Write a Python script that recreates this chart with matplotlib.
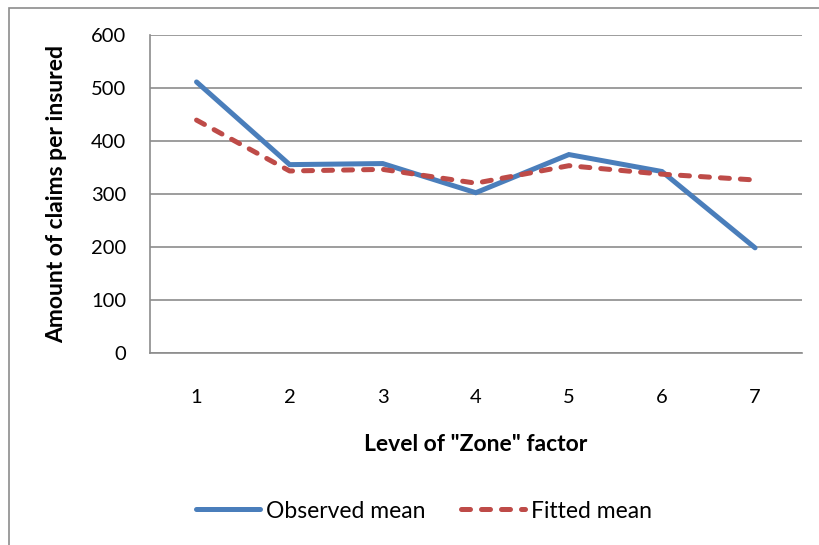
import numpy as np
import matplotlib.pyplot as plt
from matplotlib.patches import Rectangle

plt.rcParams['font.family'] = ['Lato', 'DejaVu Sans']

zones = [1, 2, 3, 4, 5, 6, 7]
observed = [512, 356, 358, 303, 375, 343, 199]
fitted = [440, 344, 347, 321, 354, 338, 327]

W, H = 819, 545
fig = plt.figure(figsize=(W / 100, H / 100), dpi=100)

# outer chart frame (left and top edges visible)
fig.patches.append(Rectangle((9 / W, -0.1), 1.2, 1 - 8 / H + 0.1, transform=fig.transFigure,
                             fill=False, edgecolor='#8c8c8c', linewidth=1.2))

ax = fig.add_axes([150 / W, 1 - 353.3 / H, (801.6 - 150) / W, (353.3 - 35.3) / H])

blue = '#4a7ebb'
red = '#be4b48'
ax.plot(zones, observed, color=blue, lw=3.6, solid_capstyle='round', solid_joinstyle='miter',
        label='Observed mean', zorder=3)
ax.plot(zones, fitted, color=red, lw=3.6, dashes=(1.8, 2.2), dash_capstyle='round',
        label='Fitted mean', zorder=4)

ax.set_xlim(0.5, 7.5)
ax.set_ylim(0, 600)
ax.set_yticks(np.arange(0, 601, 100))
ax.set_xticks(zones)
ax.grid(axis='y', color='#8c8c8c', lw=1.2)
ax.set_axisbelow(True)
for s in ['top', 'right']:
    ax.spines[s].set_visible(False)
for s in ['left', 'bottom']:
    ax.spines[s].set_color('#8c8c8c')
    ax.spines[s].set_linewidth(1.2)
ax.tick_params(axis='both', length=0, labelsize=14.5)
ax.tick_params(axis='x', pad=26)
ax.tick_params(axis='y', pad=17)

ax.set_xlabel('Level of "Zone" factor', fontsize=16.5, fontweight='bold', labelpad=20)
ax.set_ylabel('Amount of claims per insured', fontsize=16.5, fontweight='bold', labelpad=17)

fig.legend(loc='center', bbox_to_anchor=(424 / W, 1 - 511 / H), ncol=2, frameon=False,
           fontsize=16.5, handlelength=2.8, handletextpad=0.26, columnspacing=1.57)

fig.savefig('out.png', dpi=100)
